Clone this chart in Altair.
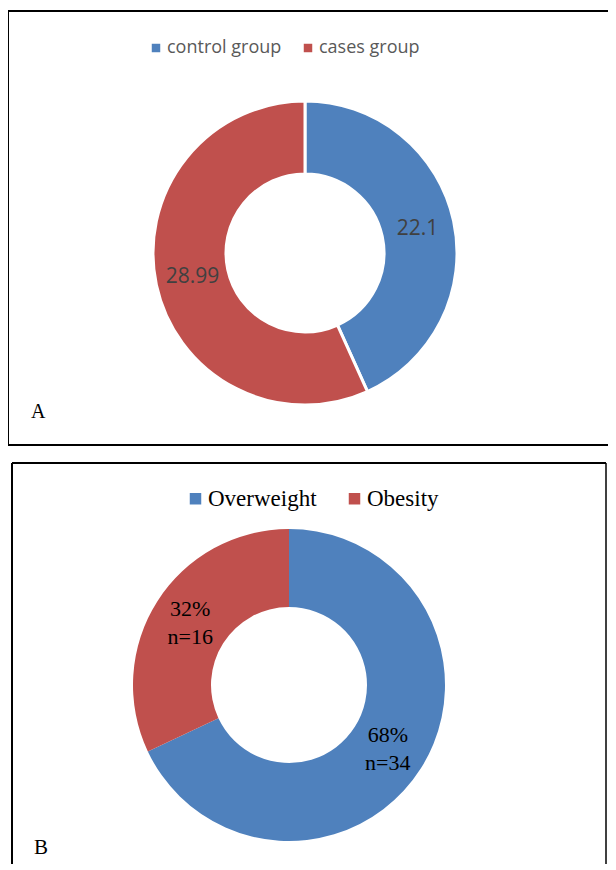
import altair as alt
import pandas as pd

# ---- data ----
a_groups = ["control group", "cases group"]
a_values = [22.1, 28.99]
a_labels = ["22.1", "28.99"]

b_groups = ["Overweight", "Obesity"]
b_pct = [68, 32]
b_n = [34, 16]

slice_colors = ["#4F81BD", "#C0504D"]

dfA = pd.DataFrame({"group": a_groups, "value": a_values, "label": a_labels,
                    "order": list(range(len(a_groups)))})
dfB = pd.DataFrame({"group": b_groups, "value": b_pct,
                    "label": [f"{p}%\nn={n}" for p, n in zip(b_pct, b_n)],
                    "order": list(range(len(b_groups)))})
dfFrame = pd.DataFrame({"panel": ["frame"]})


def edge(x, x2, y, y2, w=2):
    return alt.Chart(dfFrame).mark_rule(color="black", strokeWidth=w).encode(
        x=alt.value(x), x2=alt.value(x2), y=alt.value(y), y2=alt.value(y2))


# ---- panel A ----
cxA, cyA = 297, 245
arcA = alt.Chart(dfA).mark_arc(outerRadius=152, innerRadius=79, stroke="white", strokeWidth=3).encode(
    theta=alt.Theta("value:Q", stack=True),
    order=alt.Order("order:Q"),
    color=alt.Color("group:N", scale=alt.Scale(domain=a_groups, range=slice_colors),
                    legend=alt.Legend(title=None, orient="none", legendX=139, legendY=31,
                                      direction="horizontal", symbolType="square",
                                      symbolSize=72, symbolStrokeWidth=0,
                                      labelFont="Open Sans", labelFontSize=18,
                                      labelColor="#595959", labelOffset=2,
                                      columnPadding=17, padding=0)),
    x=alt.value(cxA), y=alt.value(cyA),
)
textA = alt.Chart(dfA).mark_text(radius=115, font="Open Sans", fontSize=21, color="#404040").encode(
    theta=alt.Theta("value:Q", stack=True),
    order=alt.Order("order:Q"),
    text="label:N",
    x=alt.value(cxA), y=alt.value(cyA),
)
frameA = [edge(-1, 620, 3, 3), edge(0, 0, 3, 437), edge(-1, 620, 437, 437)]
letterA = alt.Chart(pd.DataFrame({"t": ["A"]})).mark_text(
    font="Liberation Serif", fontSize=20, align="left", baseline="alphabetic", color="black").encode(
    text="t:N", x=alt.value(23), y=alt.value(410))

# ---- panel B ----
cxB, cyB = 281, 677
arcB = alt.Chart(dfB).mark_arc(outerRadius=156, innerRadius=78).encode(
    theta=alt.Theta("value:Q", stack=True),
    order=alt.Order("order:Q"),
    color=alt.Color("group:N", scale=alt.Scale(domain=b_groups, range=slice_colors),
                    legend=alt.Legend(title=None, orient="none", legendX=176, legendY=479,
                                      direction="horizontal", symbolType="square",
                                      symbolSize=132, symbolStrokeWidth=0,
                                      labelFont="Liberation Serif", labelFontSize=23,
                                      labelColor="black", labelOffset=1,
                                      columnPadding=26, padding=0)),
    x=alt.value(cxB), y=alt.value(cyB),
)
textB = alt.Chart(dfB).mark_text(radius=117, font="Liberation Serif", fontSize=22, dy=-13,
                                 lineBreak="\n", lineHeight=28, color="black").encode(
    theta=alt.Theta("value:Q", stack=True),
    order=alt.Order("order:Q"),
    text="label:N",
    x=alt.value(cxB), y=alt.value(cyB),
)
frameB = [edge(4, 598, 455, 455), edge(4, 4, 455, 900), edge(598, 598, 455, 900, 1.5)]
letterB = alt.Chart(pd.DataFrame({"t": ["B"]})).mark_text(
    font="Liberation Serif", fontSize=21, align="left", baseline="alphabetic", color="black").encode(
    text="t:N", x=alt.value(26), y=alt.value(846))

chart = alt.layer(
    *frameA, arcA, textA, letterA, *frameB, arcB, textB, letterB
).resolve_scale(theta="independent", color="independent").properties(
    width=600, height=856, padding=0, autosize=alt.AutoSizeParams(type="none"),
    background="white",
).configure_view(stroke=None)

chart.save("out.html", embed_options={"renderer": "svg", "actions": False})
